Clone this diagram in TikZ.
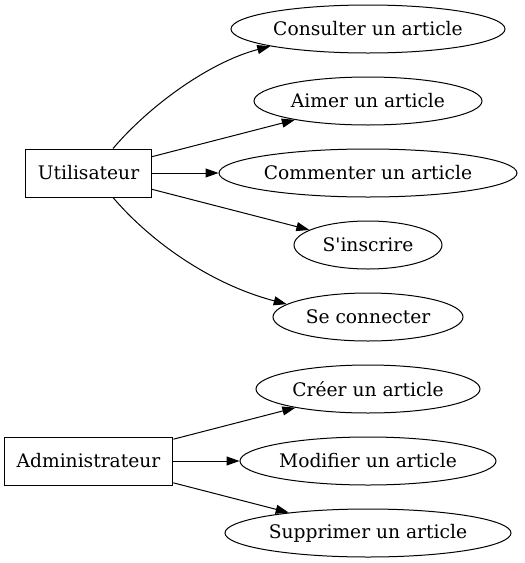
\documentclass[tikz,border=0pt]{standalone}
\usepackage{fontspec}
\setmainfont{DejaVu Serif}
\usetikzlibrary{shapes.geometric,arrows.meta}
\begin{document}
\begin{tikzpicture}[x=1pt, y=-1pt, line width=1pt,
  usecase/.style={ellipse, draw, minimum height=48pt, inner sep=0pt},
  actor/.style={rectangle, draw, minimum height=48pt, inner xsep=12.5pt},
  >={Triangle[length=13pt,width=9pt]},
  font=\fontsize{18.67}{22}\selectfont]
\useasboundingbox (0,0) rectangle (525,563);

\node [actor] (u) at (88.5,173) {Utilisateur};
\node [actor] (adm) at (88.5,461) {Administrateur};

\node [usecase, minimum width=274pt] (cons) at (368,29) {Consulter un article};
\node [usecase, minimum width=228pt] (aim) at (368,101) {Aimer un article};
\node [usecase, minimum width=298pt] (com) at (368,173) {Commenter un article};
\node [usecase, minimum width=148pt] (ins) at (368,245) {S\textquotesingle inscrire};
\node [usecase, minimum width=190pt] (conn) at (368,317) {Se connecter};
\node [usecase, minimum width=224pt] (cre) at (368,389) {Créer un article};
\node [usecase, minimum width=256pt] (mod) at (368,461) {Modifier un article};
\node [usecase, minimum width=286pt] (sup) at (368,533) {Supprimer un article};

\draw [->] (u.45) .. controls (150,105) and (210,62) .. (cons.190);
\draw [->] (u) edge (aim);
\draw [->] (u) edge (com);
\draw [->] (u) edge (ins);
\draw [->] (u.-45) .. controls (150,241) and (210,284) .. (conn.171);

\draw [->] (adm) edge (cre);
\draw [->] (adm) edge (mod);
\draw [->] (adm) edge (sup);
\end{tikzpicture}
\end{document}
